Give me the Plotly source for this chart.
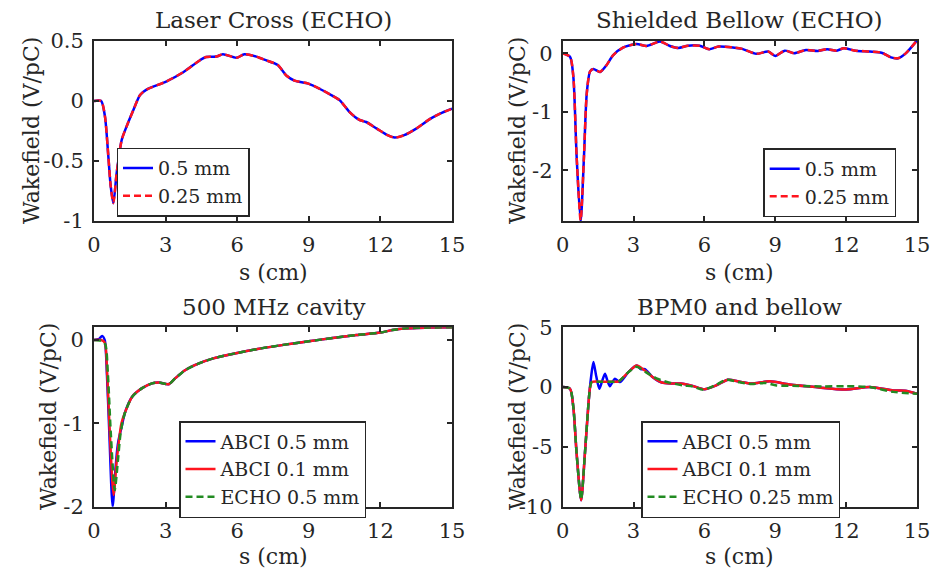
import plotly.graph_objects as go

W, H = 931, 574

# ---------------- data ----------------
# Panel 1: Laser Cross (ECHO)
lc_s = [0, 0.3, 0.46, 0.6, 0.7, 0.81, 0.95, 1.16, 1.37, 1.65, 1.93, 2.2, 3.0, 3.74, 4.44, 4.7, 5.13,
        5.4, 5.97, 6.3, 6.8, 7.2, 7.7, 8.07, 8.4, 8.98, 9.47, 9.96, 10.3, 10.7, 11.1, 11.4, 11.85,
        12.3, 12.6, 13.0, 13.5, 14.1, 14.5, 15.0]
lc_w_05 = [0, 0, -0.13, -0.46, -0.71, -0.853, -0.6, -0.325, -0.21, -0.075, 0.05, 0.095, 0.16, 0.24,
           0.34, 0.367, 0.37, 0.39, 0.36, 0.39, 0.37, 0.34, 0.30, 0.21, 0.17, 0.145, 0.10, 0.047,
           0.005, -0.09, -0.155, -0.175, -0.23, -0.285, -0.305, -0.285, -0.23, -0.147, -0.105, -0.064]
lc_w_025 = [0, 0, -0.13, -0.46, -0.71, -0.85, -0.6, -0.325, -0.21, -0.075, 0.05, 0.095, 0.16, 0.24,
            0.34, 0.367, 0.37, 0.39, 0.36, 0.39, 0.37, 0.34, 0.30, 0.21, 0.17, 0.145, 0.10, 0.047,
            0.005, -0.09, -0.155, -0.175, -0.23, -0.285, -0.305, -0.285, -0.23, -0.147, -0.105, -0.064]

# Panel 2: Shielded Bellow (ECHO)
sb_s = [0, 0.31, 0.45, 0.59, 0.76, 0.9, 1.02, 1.16, 1.3, 1.58, 1.86, 2.14, 2.57, 3.13, 3.55, 4.12,
        4.54, 4.9, 5.3, 5.8, 6.2, 6.6, 7.2, 7.6, 8.2, 8.7, 9.0, 9.4, 9.8, 10.3, 10.8, 11.2, 11.6,
        11.9, 12.4, 13.0, 13.5, 13.9, 14.2, 14.5, 15.0]
sb_w_05 = [0, -0.06, -0.4, -1.77, -2.88, -1.77, -0.68, -0.31, -0.27, -0.32, -0.2, -0.03, 0.10, 0.16,
           0.125, 0.2, 0.125, 0.09, 0.13, 0.13, 0.07, 0.115, 0.10, 0.075, -0.01, 0.03, -0.045, 0.045,
           0.0, 0.057, 0.04, 0.07, 0.045, 0.085, 0.045, 0.03, 0.01, -0.07, -0.085, -0.01, 0.22]
sb_w_025 = [0, -0.06, -0.4, -1.77, -2.86, -1.77, -0.68, -0.31, -0.27, -0.32, -0.2, -0.03, 0.10, 0.16,
            0.125, 0.2, 0.125, 0.09, 0.13, 0.13, 0.07, 0.115, 0.10, 0.075, -0.01, 0.03, -0.045, 0.045,
            0.0, 0.057, 0.04, 0.07, 0.045, 0.085, 0.045, 0.03, 0.01, -0.07, -0.085, -0.01, 0.22]

# Panel 3: 500 MHz cavity
cv_tail_s = [1.31, 1.6, 2.0, 2.43, 2.71, 3.13, 3.4, 3.83, 4.4, 5.0, 6.0, 7.0, 8.0, 9.0, 10.0, 11.0,
             12.0, 12.5, 13.0, 14.0, 15.0]
cv_tail_w = [-0.86, -0.68, -0.58, -0.52, -0.51, -0.53, -0.46, -0.36, -0.28, -0.22, -0.155, -0.10,
             -0.055, -0.015, 0.025, 0.06, 0.09, 0.12, 0.14, 0.15, 0.155]
cv_s_abci05 = [0, 0.2, 0.34, 0.45, 0.54, 0.64, 0.78, 0.9, 0.97, 1.03, 1.15] + cv_tail_s
cv_w_abci05 = [0, 0.01, 0.05, 0.0, -0.4, -1.1, -2.0, -1.55, -1.32, -1.2, -1.05] + cv_tail_w
cv_s_abci01 = [0, 0.3, 0.45, 0.55, 0.66, 0.82, 0.95, 1.05, 1.15] + cv_tail_s
cv_w_abci01 = [0, 0, -0.03, -0.4, -1.1, -1.86, -1.45, -1.2, -1.0] + cv_tail_w
cv_s_echo05 = [0, 0.3, 0.47, 0.58, 0.7, 0.87, 1.0, 1.1, 1.2] + cv_tail_s
cv_w_echo05 = [0, -0.01, -0.05, -0.4, -1.1, -1.8, -1.45, -1.15, -0.98] + cv_tail_w

# Panel 4: BPM0 and bellow
bp_s_abci05 = [0, 0.31, 0.45, 0.59, 0.78, 0.94, 1.09, 1.2, 1.3, 1.42, 1.55, 1.67, 1.79, 1.9, 2.0,
               2.1, 2.21, 2.42, 2.78, 3.13, 3.3, 3.48, 3.8, 4.2, 4.6, 5.0, 5.5, 6.0, 6.5, 7.0, 7.5,
               8.0, 8.77, 9.6, 10.7, 12.0, 13.0, 14.0, 14.5, 15.0]
bp_w_abci05 = [0, -0.14, -1.67, -5.57, -9.47, -5.57, -1.4, 0.8, 2.09, 0.9, -0.14, 0.5, 1.11, 0.5,
               0.08, 0.4, 0.7, 0.42, 1.25, 1.8, 1.5, 1.5, 0.85, 0.38, 0.3, 0.3, 0.1, -0.18, 0.15,
               0.62, 0.45, 0.3, 0.48, 0.22, 0.0, -0.2, 0.0, -0.28, -0.3, -0.55]
bp_s_abci01 = [0, 0.31, 0.45, 0.59, 0.78, 0.94, 1.09, 1.16, 1.23, 1.6, 2.0, 2.35, 2.78, 3.13, 3.48,
               3.8, 4.2, 4.6, 5.0, 5.5, 6.0, 6.5, 7.0, 7.5, 8.0, 8.77, 9.6, 10.7, 12.0, 13.0, 14.0,
               14.5, 15.0]
bp_w_abci01 = [0, -0.14, -1.67, -5.57, -9.47, -5.57, -1.4, 0.0, 0.42, 0.45, 0.45, 0.47, 1.25, 1.8,
               1.39, 0.85, 0.38, 0.3, 0.3, 0.1, -0.18, 0.15, 0.62, 0.45, 0.3, 0.48, 0.22, 0.0, -0.2,
               0.0, -0.28, -0.3, -0.55]
bp_s_echo025 = [0, 0.31, 0.45, 0.59, 0.78, 0.94, 1.09, 1.16, 1.23, 1.6, 2.0, 2.35, 2.78, 3.13, 3.3,
                3.48, 4.0, 4.57, 5.1, 5.5, 5.95, 6.5, 6.93, 7.5, 8.0, 8.6, 9.05, 10.0, 11.0, 12.0,
                13.0, 14.0, 15.0]
bp_w_echo025 = [0, -0.14, -1.67, -5.57, -9.4, -5.57, -1.4, 0.0, 0.42, 0.45, 0.45, 0.47, 1.25, 1.7,
                1.54, 1.3, 0.7, 0.35, 0.14, 0.05, -0.22, 0.2, 0.62, 0.4, 0.25, 0.35, 0.14, 0.1, 0.05,
                0.08, 0.0, -0.4, -0.55]

# titles / labels / ticks
panel_titles = ["Laser Cross (ECHO)", "Shielded Bellow (ECHO)", "500 MHz cavity", "BPM0 and bellow"]
x_label = "s (cm)"
y_label = "Wakefield (V/pC)"
x_tickvals = [0, 3, 6, 9, 12, 15]
x_ticktext = ["0", "3", "6", "9", "12", "15"]
y_tickvals = [[0.5, 0, -0.5, -1], [0, -1, -2], [0, -1, -2], [5, 0, -5, -10]]
y_ticktext = [["0.5", "0", "-0.5", "-1"], ["0", "-1", "-2"], ["0", "-1", "-2"], ["5", "0", "-5", "-10"]]
y_ranges = [[-1, 0.5], [-2.87, 0.21], [-2, 0.153], [-10, 5]]

# ---------------- styling ----------------
FONT = "DejaVu Serif"
TXT = "#262626"
BLUE = "rgb(0,0,255)"
RED = "rgb(255,20,30)"
GREEN = "rgb(34,139,34)"
LW = 2.5
DASH = "7px,4px"


def px(x):
    return x / W


def py(y):
    return 1 - y / H


# plot boxes in pixels (left, right, top, bottom)
boxes = [(94, 452, 41, 221), (562.7, 917, 41, 221), (94, 452, 327.3, 506.7), (562.7, 917, 327.3, 506.7)]

fig = go.Figure()

legend_names = ["legend", "legend2", "legend3", "legend4"]
xa_names = ["x", "x2", "x3", "x4"]
ya_names = ["y", "y2", "y3", "y4"]


def add(i, s, w, name, color, dash=None):
    fig.add_trace(go.Scatter(
        x=s, y=w, name=name, mode="lines",
        line=dict(color=color, width=LW, dash=dash, shape="spline", smoothing=0.7),
        xaxis=xa_names[i], yaxis=ya_names[i], legend=legend_names[i],
    ))


add(0, lc_s, lc_w_05, "0.5 mm", BLUE)
add(0, lc_s, lc_w_025, "0.25 mm", RED, DASH)
add(1, sb_s, sb_w_05, "0.5 mm", BLUE)
add(1, sb_s, sb_w_025, "0.25 mm", RED, DASH)
add(2, cv_s_abci05, cv_w_abci05, "ABCI 0.5 mm", BLUE)
add(2, cv_s_abci01, cv_w_abci01, "ABCI 0.1 mm", RED)
add(2, cv_s_echo05, cv_w_echo05, "ECHO 0.5 mm", GREEN, DASH)
add(3, bp_s_abci05, bp_w_abci05, "ABCI 0.5 mm", BLUE)
add(3, bp_s_abci01, bp_w_abci01, "ABCI 0.1 mm", RED)
add(3, bp_s_echo025, bp_w_echo025, "ECHO 0.25 mm", GREEN, DASH)

layout = dict(
    width=W, height=H, margin=dict(l=0, r=0, t=0, b=0),
    paper_bgcolor="white", plot_bgcolor="white",
    font=dict(family=FONT, size=21, color=TXT),
    showlegend=True,
)

axis_common = dict(
    showline=True, linecolor="#262626", linewidth=2, mirror="ticks",
    ticks="inside", ticklen=5, tickwidth=1.5, tickcolor="#262626",
    showgrid=False, zeroline=False, tickfont=dict(family=FONT, size=21, color=TXT),
    automargin=False,
)

for i, (l, r, t, b) in enumerate(boxes):
    sfx = "" if i == 0 else str(i + 1)
    layout["xaxis" + sfx] = dict(
        axis_common, domain=[px(l), px(r)], range=[0, 15], anchor=ya_names[i],
        tickvals=x_tickvals, ticktext=x_ticktext, ticklabelstandoff=4,
    )
    layout["yaxis" + sfx] = dict(
        axis_common, domain=[py(b), py(t)], range=y_ranges[i], anchor=xa_names[i],
        tickvals=y_tickvals[i], ticktext=y_ticktext[i], ticklabelstandoff=4,
    )

legend_pos = [(183, 147.7), (829.7, 148.3), (272.5, 421), (740.5, 421)]
for i, (lx, ly) in enumerate(legend_pos):
    layout[legend_names[i]] = dict(
        x=px(lx), y=py(ly), xanchor="center", yanchor="top", xref="paper", yref="paper",
        bgcolor="white", bordercolor="#262626", borderwidth=1.5,
        font=dict(family=FONT, size=19, color=TXT), tracegroupgap=0,
        itemwidth=30,
    )

fig.update_layout(**layout)

# titles and axis labels as annotations
title_y = [20, 20, 307, 307]
xlab_y = [272, 272, 556, 556]
ylab_x = [31, 517, 48, 517]
for i, (l, r, t, b) in enumerate(boxes):
    cx = (l + r) / 2
    cy = (t + b) / 2
    fig.add_annotation(text=panel_titles[i], x=px(cx), y=py(title_y[i]), xref="paper", yref="paper",
                       showarrow=False, xanchor="center", yanchor="middle",
                       font=dict(family=FONT, size=23, color=TXT))
    fig.add_annotation(text=x_label, x=px(cx), y=py(xlab_y[i]), xref="paper", yref="paper",
                       showarrow=False, xanchor="center", yanchor="middle",
                       font=dict(family=FONT, size=22, color=TXT))
    fig.add_annotation(text=y_label, x=px(ylab_x[i]), y=py(cy), xref="paper", yref="paper",
                       showarrow=False, xanchor="center", yanchor="middle", textangle=-90,
                       font=dict(family=FONT, size=22, color=TXT))

fig.write_html("out.html")
